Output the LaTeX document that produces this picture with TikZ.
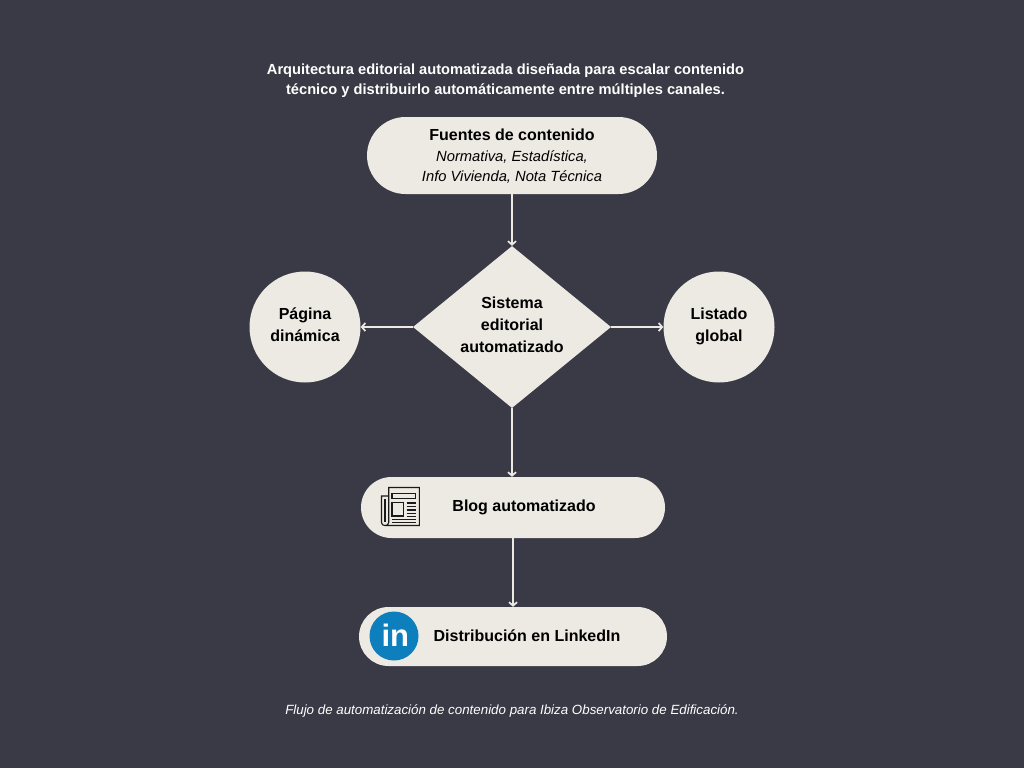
\documentclass[tikz,border=0pt]{standalone}
\usepackage{fontspec}
\setmainfont{Liberation Sans}
\usetikzlibrary{shapes,arrows,arrows.meta,shapes.misc,shapes.geometric}
\definecolor{fondo}{HTML}{3A3946}
\definecolor{crema}{HTML}{EDE9E3}
\definecolor{azulin}{HTML}{0E7FBD}
\definecolor{tinta}{HTML}{1A1A1A}

\begin{document}
\begin{tikzpicture}[auto, x=1pt, y=-1pt, >={Straight Barb[length=3.5pt,width=8pt]},
    pastilla/.style={shape=rounded rectangle, fill=crema, draw=none, inner sep=0pt},
    circulo/.style={circle, fill=crema, minimum size=111pt, inner sep=0pt},
    etiqueta/.style={inner sep=0pt, text=black, font=\fontsize{16}{22}\selectfont\bfseries},
    leyenda/.style={inner sep=0pt, text=white, align=center},
    flecha/.style={->, draw=crema, line width=1.7pt},
    icono/.style={draw=tinta, line width=1.1pt}]

    % Fondo
    \fill [fondo] (0,0) rectangle (1024,768);

    % Titulo
    \node [leyenda, font=\fontsize{14.65}{20}\selectfont\bfseries] (titulo) at (505.5,80.5) {Arquitectura editorial automatizada diseñada para escalar contenido\\técnico y distribuirlo automáticamente entre múltiples canales.};

    % Fuentes
    \node [pastilla, minimum width=290pt, minimum height=77pt] (fuentes) at (512,155.5) {};
    \node [inner sep=0pt, text=black, align=center, font=\fontsize{14.75}{20.5}\selectfont\itshape] (fuentes_texto) at (512,156.5) {{\fontsize{16}{20.5}\selectfont\upshape\bfseries Fuentes de contenido}\\Normativa, Estadística,\\Info Vivienda, Nota Técnica};

    % Sistema
    \node [diamond, aspect=1.22, fill=crema, inner sep=0pt, minimum width=198pt, minimum height=162pt, below of=fuentes, node distance=171.5pt] (sistema) {};
    \node [etiqueta, align=center, yshift=2pt] (sistema_texto) at (sistema) {Sistema\\editorial\\automatizado};

    % Laterales
    \node [circulo, left of=sistema, node distance=207pt] (pagina) {};
    \node [etiqueta, align=center, yshift=2pt] (pagina_texto) at (pagina) {Página\\dinámica};
    \node [circulo, right of=sistema, node distance=207pt] (listado) {};
    \node [etiqueta, align=center, yshift=1pt] (listado_texto) at (listado) {Listado\\global};

    % Canales
    \node [pastilla, minimum width=304pt, minimum height=61pt, below of=sistema, node distance=180.5pt, xshift=1pt] (blog) {};
    \node [pastilla, minimum width=308pt, minimum height=59pt, below of=blog, node distance=129pt] (linkedin) {};
    \node [etiqueta] (blog_texto) at (524,507) {Blog automatizado};
    \node [etiqueta] (linkedin_texto) at (527,636) {Distribución en LinkedIn};

    % Icono periodico
    \draw [icono] (388.7,496) -- (381.5,496) -- (381.5,522.5) .. controls (381.5,524.5) and (383,525.5) .. (385,525.5) -- (419.3,525.5) -- (419.3,487.5) -- (388.7,487.5) -- (388.7,522.5) .. controls (388.7,524.5) and (387,525.5) .. (385,525.5);
    \draw [icono] (385,499) -- (385,522);
    \draw [icono] (392,493.3) rectangle (415.7,498.3);
    \draw [icono] (392,502.3) rectangle (403.3,516);
    \foreach \ylinea in {503,506.5,510,513.5,516.5}
      \draw [icono] (406.7,\ylinea) -- (415.7,\ylinea);
    \foreach \ylinea in {519.5,522.5}
      \draw [icono] (392,\ylinea) -- (415.7,\ylinea);

    % Icono LinkedIn
    \node [circle, fill=azulin, minimum size=49pt, inner sep=0pt] (logo) at (394,636) {};
    \node [inner sep=0pt, text=white, font=\fontsize{31}{31}\selectfont\bfseries] (logo_in) at (395.3,635) {in};

    % Pie
    \node [leyenda, font=\fontsize{13.33}{18}\selectfont\itshape] (pie) at (512,710.5) {Flujo de automatización de contenido para Ibiza Observatorio de Edificación.};

    % Linii
    \draw [flecha] (fuentes) -- (sistema);
    \draw [flecha] (sistema) -- (pagina);
    \draw [flecha] (sistema) -- (listado);
    \draw [flecha] (sistema) -- (sistema |- blog.north);
    \draw [flecha] (blog) -- (linkedin);

\end{tikzpicture}
\end{document}
